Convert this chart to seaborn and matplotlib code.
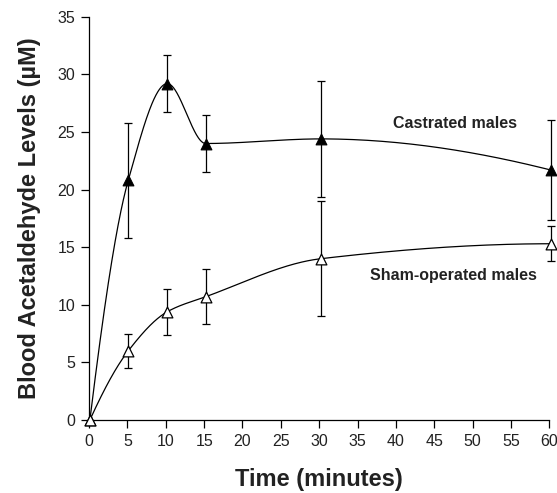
import numpy as np
import pandas as pd
import matplotlib
matplotlib.use("Agg")
import matplotlib.pyplot as plt
import seaborn as sns

# ---- data ----
time_min = [0.1, 5.1, 10.2, 15.2, 30.2, 60.2]
castrated_mean = [0.0, 20.8, 29.2, 24.0, 24.4, 21.7]
castrated_err = [0.0, 5.0, 2.45, 2.45, 5.0, 4.35]
sham_mean = [0.0, 6.0, 9.4, 10.7, 14.0, 15.3]
sham_err = [0.0, 1.5, 2.0, 2.4, 5.0, 1.5]
x_ticks = list(range(0, 65, 5))
y_ticks = list(range(0, 40, 5))
label_castrated = "Castrated males"
label_sham = "Sham-operated males"


def _edge_slope(h0, h1, d0, d1):
    d = ((2 * h0 + h1) * d0 - h0 * d1) / (h0 + h1)
    if np.sign(d) != np.sign(d0):
        d = 0.0
    elif np.sign(d0) != np.sign(d1) and abs(d) > abs(3 * d0):
        d = 3 * d0
    return d


def smooth_curve(xs, ys, n=80):
    """Shape-preserving piecewise cubic (PCHIP) through the points."""
    x = np.asarray(xs, float)
    y = np.asarray(ys, float)
    h = np.diff(x)
    delta = np.diff(y) / h
    m = np.zeros_like(y)
    for k in range(1, len(x) - 1):
        if delta[k - 1] * delta[k] <= 0:
            m[k] = 0.0
        else:
            w1 = 2 * h[k] + h[k - 1]
            w2 = h[k] + 2 * h[k - 1]
            m[k] = (w1 + w2) / (w1 / delta[k - 1] + w2 / delta[k])
    m[0] = _edge_slope(h[0], h[1], delta[0], delta[1])
    m[-1] = _edge_slope(h[-1], h[-2], delta[-1], delta[-2])
    out_x, out_y = [], []
    for k in range(len(x) - 1):
        s = np.linspace(0, 1, n)
        if k > 0:
            s = s[1:]
        h00 = 2 * s**3 - 3 * s**2 + 1
        h10 = s**3 - 2 * s**2 + s
        h01 = -2 * s**3 + 3 * s**2
        h11 = s**3 - s**2
        out_x.append(x[k] + s * h[k])
        out_y.append(h00 * y[k] + h10 * h[k] * m[k] + h01 * y[k + 1] + h11 * h[k] * m[k + 1])
    return np.concatenate(out_x), np.concatenate(out_y)


sns.set_style("ticks")
plt.rcParams["font.family"] = ["Liberation Sans", "DejaVu Sans"]

fig = plt.figure(figsize=(5.57, 4.93), dpi=100)
ax = fig.add_axes([0.160, 0.148, 0.826, 0.818])

frames = []
for name, mean in [(label_castrated, castrated_mean), (label_sham, sham_mean)]:
    sx, sy = smooth_curve(time_min, mean)
    frames.append(pd.DataFrame({"x": sx, "y": sy, "group": name}))
curve_df = pd.concat(frames, ignore_index=True)

sns.lineplot(data=curve_df, x="x", y="y", units="group", estimator=None,
             color="black", linewidth=0.9, sort=False, ax=ax, legend=False)

# error bars
ax.errorbar(time_min[1:], castrated_mean[1:], yerr=castrated_err[1:], fmt="none",
            ecolor="black", elinewidth=0.9, capsize=2.6, capthick=0.9, clip_on=False, zorder=3)
ax.errorbar(time_min[1:], sham_mean[1:], yerr=sham_err[1:], fmt="none",
            ecolor="black", elinewidth=0.9, capsize=2.6, capthick=0.9, clip_on=False, zorder=3)

pts_df = pd.DataFrame({"x": time_min + time_min,
                       "y": castrated_mean + sham_mean,
                       "group": [label_castrated] * len(time_min) + [label_sham] * len(time_min)})
sns.scatterplot(data=pts_df[pts_df.group == label_castrated], x="x", y="y", marker="^",
                s=60, color="black", edgecolor="black", linewidth=0.8, ax=ax,
                zorder=4, clip_on=False, legend=False)
sns.scatterplot(data=pts_df[pts_df.group == label_sham], x="x", y="y", marker="^",
                s=60, facecolor="white", edgecolor="black", linewidth=0.9, ax=ax,
                zorder=5, clip_on=False, legend=False)

ax.text(47.7, 25.7, label_castrated, fontsize=11.5, fontweight="bold", ha="center", va="center",
        color="#222222")
ax.text(47.5, 12.55, label_sham, fontsize=11.5, fontweight="bold", ha="center", va="center",
        color="#222222")

ax.set_xlim(0, 60)
ax.set_ylim(0, 35)
ax.set_xticks(x_ticks)
ax.set_yticks(y_ticks)
ax.tick_params(axis="both", direction="out", length=6, width=0.9, color="black",
               labelsize=11.5, labelcolor="#222222", pad=4)
for s in ["top", "right"]:
    ax.spines[s].set_visible(False)
for s in ["left", "bottom"]:
    ax.spines[s].set_color("black")
    ax.spines[s].set_linewidth(0.9)

ax.set_xlabel("Time (minutes)", fontsize=17, fontweight="bold", color="#222222", labelpad=14)
ax.set_ylabel("Blood Acetaldehyde Levels (µM)", fontsize=17, fontweight="bold", color="#222222", labelpad=12)

fig.savefig("out.png", dpi=100, facecolor="white")
